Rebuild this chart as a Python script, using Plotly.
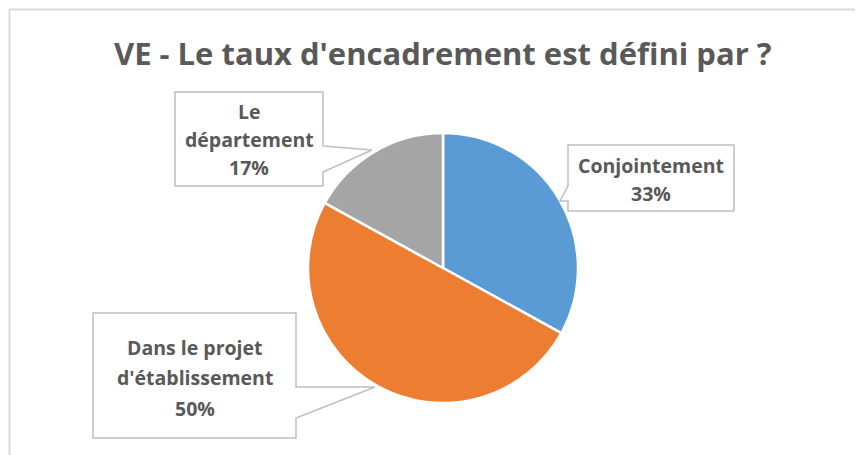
import plotly.graph_objects as go

# ---- data ----
categories = ["Conjointement", "Dans le projet d'établissement", "Le département"]
values = [33, 50, 17]
colors = ["#5B9BD5", "#ED7D31", "#A5A5A5"]
label_lines = [["Conjointement"], ["Dans le projet", "d'établissement"], ["Le", "département"]]
title_text = "VE - Le taux d'encadrement est défini par ?"

W, H = 863, 455
OFF = 8  # page body margin
CX, CY, R = 443, 268, 135

def px(x):
    return (x - OFF) / W

def py(y):
    return 1 - (y - OFF) / H

fig = go.Figure()
fig.add_trace(go.Pie(
    labels=categories, values=values, sort=False, direction="clockwise",
    rotation=0, textinfo="none", hoverinfo="label+percent",
    marker=dict(colors=colors, line=dict(color="white", width=2.5)),
    domain=dict(x=[px(CX - R), px(CX + R)], y=[py(CY + R), py(CY - R)]),
    showlegend=False,
))

# callout boxes: (box x0, y0, x1, y1, side, wedge y a, wedge y b, tip x, tip y)
callouts = [
    (568, 145, 734, 211, "left", 186, 201, 560, 201),
    (93, 313, 296, 438, "right", 387, 418, 375, 387),
    (175, 92, 323, 186, "right", 146, 172, 372, 150),
]
text_pos = [(651, 165, 28), (195, 347, 30.5), (249, 112, 27.5)]

shapes = []
annotations = []
# outer border
shapes.append(dict(type="path", xref="paper", yref="paper",
                   path=f"M {px(9.5)},{py(H+20)} L {px(9.5)},{py(9.5)} L {px(W+20)},{py(9.5)}",
                   line=dict(color="#D9D9D9", width=2)))

for i, (x0, y0, x1, y1, side, wa, wb, tx, ty) in enumerate(callouts):
    if side == "right":
        path = (f"M {px(x0)},{py(y0)} L {px(x1)},{py(y0)} L {px(x1)},{py(wa)} "
                f"L {px(tx)},{py(ty)} L {px(x1)},{py(wb)} L {px(x1)},{py(y1)} "
                f"L {px(x0)},{py(y1)} Z")
    else:
        path = (f"M {px(x0)},{py(y0)} L {px(x1)},{py(y0)} L {px(x1)},{py(y1)} "
                f"L {px(x0)},{py(y1)} L {px(x0)},{py(wb)} L {px(tx)},{py(ty)} "
                f"L {px(x0)},{py(wa)} Z")
    shapes.append(dict(type="path", xref="paper", yref="paper", path=path,
                       fillcolor="white", line=dict(color="#BFBFBF", width=1.5), layer="above"))
    lines = label_lines[i] + [f"{values[i]}%"]
    cx, cy, ls = text_pos[i]
    for k, t in enumerate(lines):
        annotations.append(dict(text=f"<b>{t}</b>", x=px(cx), y=py(cy + k * ls),
                                xref="paper", yref="paper", showarrow=False,
                                xanchor="center", yanchor="middle",
                                font=dict(family="Open Sans", size=19.5, color="#595959")))

annotations.append(dict(text=f"<b>{title_text}</b>", x=px(443), y=py(53),
                        xref="paper", yref="paper", showarrow=False,
                        xanchor="center", yanchor="middle",
                        font=dict(family="Open Sans", size=31, color="#595959")))

fig.update_layout(width=W, height=H, margin=dict(l=0, r=0, t=0, b=0),
                  paper_bgcolor="white", plot_bgcolor="white",
                  shapes=shapes, annotations=annotations)
fig.write_html("out.html")
